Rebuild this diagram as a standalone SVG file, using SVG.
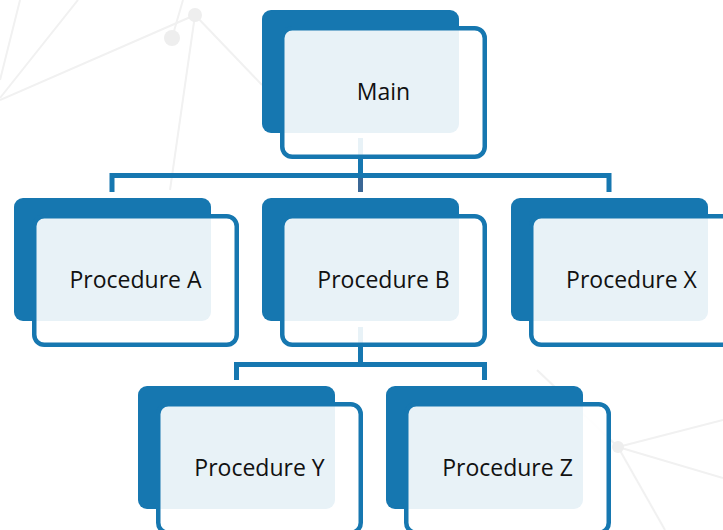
<svg xmlns="http://www.w3.org/2000/svg" width="723" height="530" viewBox="0 0 723 530">
  <style>
    .bg { fill: none; stroke: #f1f1f1; stroke-width: 2; }
    .dot { fill: #eeeeee; }
    .back { fill: #1677b0; }
    .front { fill: #ffffff; fill-opacity: 0.9; stroke: #1677b0; stroke-width: 4.5; }
    .wire { fill: none; stroke: #1677b0; stroke-width: 5; stroke-linejoin: miter; }
    .stub { fill: none; stroke: #3b6795; stroke-width: 5; }
    .label { font-family: "Open Sans", "Noto Sans", sans-serif; font-size: 23px; fill: #111111; text-anchor: middle; }
  </style>

  <!-- faint network backdrop -->
  <rect width="723" height="530" fill="#ffffff"/>
  <g id="backdrop">
    <line class="bg" x1="20" y1="0" x2="0" y2="80"/>
    <line class="bg" x1="78" y1="0" x2="0" y2="98"/>
    <line class="bg" x1="195" y1="15" x2="0" y2="100"/>
    <line class="bg" x1="183" y1="0" x2="172" y2="38"/>
    <line class="bg" x1="195" y1="15" x2="170" y2="190"/>
    <line class="bg" x1="195" y1="15" x2="262" y2="85"/>
    <line class="bg" x1="537" y1="370" x2="618" y2="447"/>
    <line class="bg" x1="618" y1="447" x2="723" y2="420"/>
    <line class="bg" x1="618" y1="447" x2="723" y2="478"/>
    <line class="bg" x1="618" y1="447" x2="665" y2="530"/>
    <circle class="dot" cx="195" cy="15" r="7"/>
    <circle class="dot" cx="172" cy="38" r="8"/>
    <circle class="dot" cx="618" cy="447" r="6"/>
  </g>

  <!-- connectors -->
  <g id="connectors">
    <line class="wire" x1="360.5" y1="138" x2="360.5" y2="178"/>
    <line class="stub" x1="360.5" y1="178" x2="360.5" y2="192"/>
    <polyline class="wire" points="112,192 112,175.5 609,175.5 609,192"/>
    <line class="wire" x1="360.5" y1="327" x2="360.5" y2="367"/>
    <polyline class="wire" points="236.5,380 236.5,364.5 484.5,364.5 484.5,380"/>
  </g>

  <g id="main">
    <rect class="back" x="262" y="10" width="197" height="123" rx="9"/>
    <rect class="front" x="282.25" y="28.25" width="202.5" height="128.5" rx="10"/>
    <text class="label" x="383.5" y="100">Main</text>
  </g>

  <g id="procedure-a">
    <rect class="back" x="14" y="198" width="197" height="123" rx="9"/>
    <rect class="front" x="34.25" y="216.25" width="202.5" height="128.5" rx="10"/>
    <text class="label" x="135.5" y="288">Procedure A</text>
  </g>

  <g id="procedure-b">
    <rect class="back" x="262" y="198" width="197" height="123" rx="9"/>
    <rect class="front" x="282.25" y="216.25" width="202.5" height="128.5" rx="10"/>
    <text class="label" x="383.5" y="288">Procedure B</text>
  </g>

  <g id="procedure-x">
    <rect class="back" x="511" y="198" width="197" height="123" rx="9"/>
    <rect class="front" x="531.25" y="216.25" width="202.5" height="128.5" rx="10"/>
    <text class="label" x="631.5" y="288">Procedure X</text>
  </g>

  <g id="procedure-y">
    <rect class="back" x="138" y="386" width="197" height="123" rx="9"/>
    <rect class="front" x="158.25" y="404.25" width="202.5" height="128.5" rx="10"/>
    <text class="label" x="259.5" y="476">Procedure Y</text>
  </g>

  <g id="procedure-z">
    <rect class="back" x="386" y="386" width="197" height="123" rx="9"/>
    <rect class="front" x="406.25" y="404.25" width="202.5" height="128.5" rx="10"/>
    <text class="label" x="507.5" y="476">Procedure Z</text>
  </g>
</svg>
